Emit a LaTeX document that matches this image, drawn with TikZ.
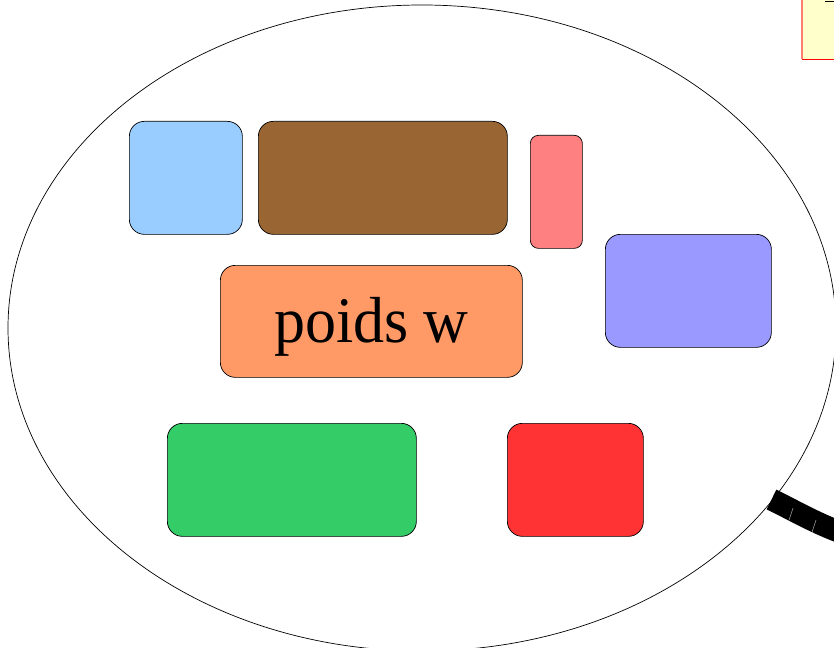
\documentclass[tikz,border=0pt]{standalone}
\usepackage{fontspec}
\setmainfont{Liberation Serif}
\usetikzlibrary{shapes.geometric}
\definecolor{lblue}{HTML}{99CCFF}
\definecolor{brownc}{HTML}{996633}
\definecolor{pinkc}{HTML}{FF8080}
\definecolor{violc}{HTML}{9999FF}
\definecolor{orangec}{HTML}{FF9966}
\definecolor{greenc}{HTML}{33CC66}
\definecolor{redc}{HTML}{FF3333}
\definecolor{yellc}{HTML}{FFFFCC}
\definecolor{salmonc}{HTML}{FF8070}
\begin{document}
\begin{tikzpicture}[x=1pt,y=-1pt,
  box/.style={draw=black, line width=0.7pt, rounded corners=15pt, inner sep=0pt, anchor=north west}]
\useasboundingbox (0,0) rectangle (834,647);
\fill[white] (0,0) rectangle (834,647);
% yellow box (partly outside)
\filldraw[fill=yellc, draw=red, line width=1pt] (802,-5) rectangle (850,60);
\draw[salmonc, line width=1.2pt] (802,-5) -- (802,59.5);
\fill[black] (825,0.6) rectangle (834,2);
% big ellipse
\node[draw=black, line width=0.7pt, ellipse, minimum width=828pt, minimum height=646pt, inner sep=0pt] (ell) at (422,328) {};
% boxes
\node[box, fill=lblue, minimum width=113pt, minimum height=113pt] (b1) at (129,121) {};
\node[box, fill=brownc, minimum width=249pt, minimum height=113pt] (b2) at (258,121) {};
\node[box, fill=pinkc, minimum width=52pt, minimum height=113pt, rounded corners=8pt] (b3) at (530,135) {};
\node[box, fill=violc, minimum width=166pt, minimum height=113pt] (b4) at (605,234) {};
\node[box, fill=orangec, minimum width=302pt, minimum height=112pt] (b5) at (220,265) {};
\node[font=\fontsize{62}{62}\selectfont, yscale=1.05, inner sep=0pt] (t5) at ([yshift=-5pt]b5.center) {poids w};
\node[box, fill=greenc, minimum width=249pt, minimum height=113pt] (b6) at (167,423) {};
\node[box, fill=redc, minimum width=136pt, minimum height=113pt] (b7) at (507,423) {};
% thick connector leaving the ellipse
\coordinate (c1) at (771.5,499.5);
\coordinate (c2) at (845,534);
\draw[black, line width=22pt, line cap=butt] (c1) .. controls (795,511) and (815,523) .. (c2);
\draw[gray!60, line width=0.5pt] (793,508) -- (789,520);
\draw[gray!60, line width=0.5pt] (816,520) -- (812,532);
\end{tikzpicture}
\end{document}
